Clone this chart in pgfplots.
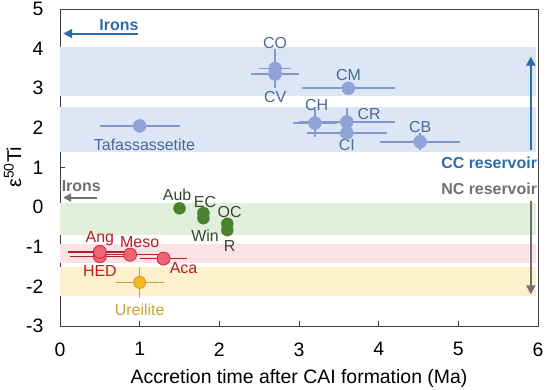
\documentclass[border=0pt]{standalone}
\usepackage{fontspec}
\setmainfont{Liberation Sans}
\usepackage{pgfplots}
\pgfplotsset{compat=1.18}
\usetikzlibrary{arrows.meta}
\definecolor{bband}{RGB}{221,230,245}
\definecolor{bmark}{RGB}{143,163,214}
\definecolor{berr}{RGB}{130,152,206}
\definecolor{btext}{RGB}{74,104,152}
\definecolor{barrow}{RGB}{46,108,168}
\definecolor{garrow}{RGB}{112,112,112}
\definecolor{gband}{RGB}{226,239,218}
\definecolor{gmark}{RGB}{75,130,50}
\definecolor{gtext}{RGB}{55,70,45}
\definecolor{pband}{RGB}{252,226,229}
\definecolor{rmark}{RGB}{240,100,115}
\definecolor{redge}{RGB}{200,40,50}
\definecolor{rtext}{RGB}{180,30,40}
\definecolor{yband}{RGB}{253,240,205}
\definecolor{ymark}{RGB}{245,185,40}
\definecolor{yedge}{RGB}{220,150,20}
\definecolor{ytext}{RGB}{200,165,50}
\begin{document}
\begin{tikzpicture}
\useasboundingbox (-60bp,-64bp) rectangle (489bp,326bp);
\begin{axis}[at={(0,0)}, anchor=south west, scale only axis,
  width=478bp, height=317bp,
  xmin=0, xmax=6, ymin=-3, ymax=5,
  xtick={0,...,6}, ytick={-3,...,5},
  tick align=inside, xtick pos=bottom, ytick pos=left,
  major tick length=5bp,
  axis line style={black!75, line width=0.8pt},
  tick style={black!75, line width=0.8pt},
  /pgf/number format/assume math mode=true,
  tick label style={font=\fontsize{19.5}{19.5}\selectfont},
  yticklabel style={xshift=-13bp},
  xticklabel style={yshift=-13bp},
  xlabel={Accretion time after CAI formation (Ma)},
  xlabel style={font=\fontsize{19.5}{19.5}\selectfont, yshift=-6bp},
  ylabel={ε\textsuperscript{50}Ti},
  ylabel style={font=\fontsize{20}{20}\selectfont, yshift=-2bp},
  clip=false,
  error bars/error mark=none,
]
% bands
\addplot[fill=bband, draw=none] coordinates {(0,2.8) (5.98,2.8) (5.98,4.05) (0,4.05)};
\addplot[fill=bband, draw=none] coordinates {(0,1.4) (5.98,1.4) (5.98,2.53) (0,2.53)};
\addplot[fill=gband, draw=none] coordinates {(0,-0.7) (5.98,-0.7) (5.98,0.1) (0,0.1)};
\addplot[fill=pband, draw=none] coordinates {(0,-1.4) (5.98,-1.4) (5.98,-0.93) (0,-0.93)};
\addplot[fill=yband, draw=none] coordinates {(0,-2.25) (5.98,-2.25) (5.98,-1.5) (0,-1.5)};
% arrows
\addplot[barrow, line width=2bp, -{Triangle[length=9bp,width=9bp]}] coordinates {(0.98,4.38) (0.04,4.38)};
\addplot[garrow, line width=2bp, -{Triangle[length=8bp,width=8bp]}] coordinates {(0.47,0.24) (0.04,0.24)};
\addplot[barrow, line width=2bp, -{Triangle[length=9bp,width=9bp]}] coordinates {(5.91,1.45) (5.91,3.8)};
\addplot[garrow, line width=2bp, -{Triangle[length=9bp,width=9bp]}] coordinates {(5.91,0.15) (5.91,-2.2)};
% blue (CC) points
\addplot[only marks, mark=*, mark size=6.5bp, mark options={fill=bmark, draw=bmark},
  error bars/.cd, x dir=both, x explicit, y dir=both, y explicit,
  error bar style={berr, line width=1.6bp}]
coordinates {
(2.7,3.5) +- (0.2,0.5)
(2.7,3.36) +- (0.3,0.35)
(3.62,3.0) +- (0.58,0)
(3.2,2.12) +- (0.28,0.35)
(3.6,2.15) +- (0.6,0.35)
(3.6,1.87) +- (0.5,0)
(4.52,1.65) +- (0.5,0.22)
(1.0,2.05) +- (0.5,0)
};
% green (NC) points
\addplot[only marks, mark=*, mark size=6bp, mark options={fill=gmark, draw=gmark},
  error bars/.cd, x dir=both, x explicit, y dir=both, y explicit,
  error bar style={gmark, line width=1.4bp}]
coordinates {
(1.5,-0.03) +- (0,0)
(1.8,-0.15) +- (0.06,0.1)
(1.8,-0.28) +- (0.06,0.1)
(2.1,-0.42) +- (0.06,0.1)
(2.1,-0.58) +- (0.06,0.1)
};
% red points
\addplot[only marks, mark=*, mark size=6.5bp, mark options={fill=rmark, draw=redge, line width=0.8bp},
  error bars/.cd, x dir=both, x explicit,
  error bar style={rtext, line width=1.4bp}]
coordinates {
(0.5,-1.24) +- (0.38,0)
(0.5,-1.13) +- (0.4,0)
(0.88,-1.2) +- (0.35,0)
(1.3,-1.3) +- (0.3,0)
};
% yellow point
\addplot[only marks, mark=*, mark size=6bp, mark options={fill=ymark, draw=yedge, line width=0.8bp},
  error bars/.cd, x dir=both, x explicit, y dir=both, y explicit,
  error bar style={ytext, line width=1.4bp}]
coordinates {
(1.0,-1.9) +- (0.3,0.4)
};
% labels
\begin{scope}[every node/.style={font=\fontsize{16}{16}\selectfont, inner sep=0pt}]
\node[btext] at (axis cs:2.7,4.15) {CO};
\node[btext] at (axis cs:2.7,2.78) {CV};
\node[btext] at (axis cs:3.62,3.33) {CM};
\node[btext] at (axis cs:3.22,2.57) {CH};
\node[btext] at (axis cs:3.88,2.35) {CR};
\node[btext] at (axis cs:3.6,1.58) {CI};
\node[btext] at (axis cs:4.52,2.03) {CB};
\node[btext] at (axis cs:1.06,1.58) {Tafassassetite};
\node[gtext] at (axis cs:1.47,0.3) {Aub};
\node[gtext] at (axis cs:1.82,0.12) {EC};
\node[gtext] at (axis cs:2.13,-0.13) {OC};
\node[gtext] at (axis cs:1.82,-0.72) {Win};
\node[gtext] at (axis cs:2.13,-0.97) {R};
\node[rtext] at (axis cs:0.5,-0.8) {Ang};
\node[rtext] at (axis cs:1.0,-0.88) {Meso};
\node[rtext] at (axis cs:0.5,-1.6) {HED};
\node[rtext] at (axis cs:1.55,-1.53) {Aca};
\node[ytext] at (axis cs:1.0,-2.6) {Ureilite};
\node[barrow, font=\fontsize{16}{16}\selectfont\bfseries] at (axis cs:0.74,4.6) {Irons};
\node[garrow, font=\fontsize{16}{16}\selectfont\bfseries, anchor=west] at (axis cs:0.02,0.52) {Irons};
\node[barrow, font=\fontsize{16}{16}\selectfont\bfseries, anchor=east] at (axis cs:5.99,1.12) {CC reservoir};
\node[garrow, font=\fontsize{16}{16}\selectfont\bfseries, anchor=east] at (axis cs:5.99,0.46) {NC reservoir};
\end{scope}
\end{axis}
\end{tikzpicture}
\end{document}
